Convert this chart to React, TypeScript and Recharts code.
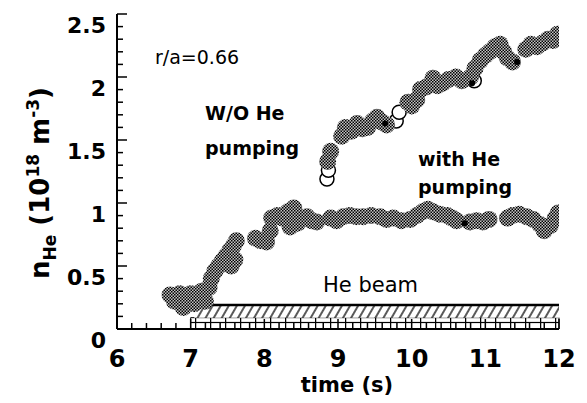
import React from 'react';
import { ScatterChart, Scatter, XAxis, YAxis, ReferenceArea, ReferenceLine } from 'recharts';

// ---- data ----
const xMajor = [6, 7, 8, 9, 10, 11, 12];
const xMinor = [6.2, 6.4, 6.6, 6.8, 7.2, 7.4, 7.6, 7.8, 8.2, 8.4, 8.6, 8.8, 9.2, 9.4, 9.6, 9.8, 10.2, 10.4, 10.6, 10.8, 11.2, 11.4, 11.6, 11.8];
const yMajor = [0, 0.5, 1, 1.5, 2, 2.5];
const yMinor = [0.1, 0.2, 0.3, 0.4, 0.6, 0.7, 0.8, 0.9, 1.1, 1.2, 1.3, 1.4, 1.6, 1.7, 1.8, 1.9, 2.1, 2.2, 2.3, 2.4];

// rise phase (common to both discharges)
const risePhase: [number, number][] = [
  [6.72, 0.27], [6.78, 0.22], [6.85, 0.28], [6.9, 0.17], [6.95, 0.23], [7.0, 0.28], [7.05, 0.2],
  [7.1, 0.26], [7.15, 0.3], [7.2, 0.22], [7.25, 0.33], [7.28, 0.4], [7.33, 0.46], [7.38, 0.5],
  [7.43, 0.54], [7.48, 0.58], [7.53, 0.62], [7.58, 0.66], [7.62, 0.7], [7.6, 0.55], [7.55, 0.5],
];
// without He pumping
const woPumping: [number, number][] = [
  [8.86, 1.33], [8.9, 1.41], [9.05, 1.53], [9.1, 1.6], [9.18, 1.57], [9.26, 1.63], [9.33, 1.59],
  [9.4, 1.6], [9.47, 1.65], [9.53, 1.68], [9.6, 1.64], [9.66, 1.62],
  [9.95, 1.8], [10.0, 1.77], [10.07, 1.82], [10.12, 1.9], [10.2, 1.92], [10.29, 1.99], [10.35, 1.93],
  [10.42, 1.95], [10.5, 1.98], [10.6, 2.0], [10.68, 1.97],
  [10.8, 2.0], [10.86, 2.07], [10.93, 2.13], [11.0, 2.17], [11.06, 2.2], [11.13, 2.24], [11.2, 2.26],
  [11.25, 2.2], [11.3, 2.15], [11.37, 2.12],
  [11.55, 2.22], [11.62, 2.26], [11.7, 2.24], [11.78, 2.27], [11.85, 2.3], [11.92, 2.29], [11.98, 2.34],
];
const woOpen: [number, number][] = [
  [8.85, 1.19], [8.87, 1.26], [9.79, 1.65], [9.83, 1.72], [10.85, 1.97],
];
// with He pumping
const withPumping: [number, number][] = [
  [7.88, 0.72], [7.95, 0.7], [8.03, 0.69], [8.08, 0.78], [8.1, 0.88], [8.18, 0.9], [8.25, 0.88],
  [8.32, 0.93], [8.4, 0.96], [8.35, 0.81], [8.45, 0.84], [8.5, 0.88], [8.58, 0.89], [8.64, 0.86],
  [8.71, 0.85], [8.9, 0.88], [8.98, 0.86], [9.07, 0.89], [9.16, 0.9], [9.25, 0.89], [9.34, 0.89],
  [9.45, 0.9], [9.57, 0.89], [9.66, 0.87], [9.75, 0.88], [9.86, 0.86], [9.98, 0.87], [10.07, 0.9],
  [10.15, 0.93], [10.22, 0.95], [10.29, 0.93], [10.38, 0.91], [10.48, 0.9], [10.55, 0.88], [10.61, 0.86],
  [10.79, 0.85], [10.88, 0.86], [10.97, 0.85], [11.05, 0.87], [11.3, 0.88], [11.37, 0.9], [11.46, 0.91],
  [11.56, 0.89], [11.65, 0.87], [11.74, 0.83], [11.8, 0.78], [11.88, 0.82], [11.95, 0.88], [11.99, 0.92],
];
const smallDots: [number, number][] = [
  [9.64, 1.63], [10.82, 1.95], [11.43, 2.12], [10.72, 0.84],
];
// He beam
const beamStart = 7.0;
const beamLineStart = 7.3;
const beamEnd = 12;
const beamTop = 0.19;
const beamMid = 0.09;

const toPts = (a: [number, number][]) => a.map(([x, y]) => ({ x, y }));

const FONT = "'DejaVu Sans', 'Liberation Sans', sans-serif";

const BlobShape = (p: any) => <circle cx={p.cx} cy={p.cy} r={8.5} fill="url(#checker)" />;
const OpenShape = (p: any) => <circle cx={p.cx} cy={p.cy} r={7} fill="#fff" stroke="#000" strokeWidth={1.5} />;
const DotShape = (p: any) => <circle cx={p.cx} cy={p.cy} r={3} fill="#000" />;

const isMajor = (v: number, arr: number[]) => arr.indexOf(v) >= 0;

const BottomTick = (p: any) => {
  const { x, y, payload } = p;
  const major = isMajor(payload.value, xMajor);
  return (
    <g>
      <line x1={x} x2={x} y1={y} y2={y - (major ? 10 : 6)} stroke="#000" strokeWidth={1.5} />
      {major && (
        <text x={x} y={y + 38} textAnchor="middle" fontFamily={FONT} fontWeight="bold" fontSize={24} fill="#000">
          {payload.value}
        </text>
      )}
    </g>
  );
};
const TopTick = (p: any) => {
  const { x, y, payload } = p;
  const major = isMajor(payload.value, xMajor);
  return <line x1={x} x2={x} y1={y} y2={y + (major ? 10 : 6)} stroke="#000" strokeWidth={1.5} />;
};
const LeftTick = (p: any) => {
  const { x, y, payload } = p;
  const major = isMajor(payload.value, yMajor);
  return (
    <g>
      <line x1={x} x2={x + (major ? 10 : 6)} y1={y} y2={y} stroke="#000" strokeWidth={1.5} />
      {major && (
        <text x={x - 11} y={y + 19} textAnchor="end" fontFamily={FONT} fontWeight="bold" fontSize={22} fill="#000">
          {payload.value}
        </text>
      )}
    </g>
  );
};
const RightTick = (p: any) => {
  const { x, y, payload } = p;
  const major = isMajor(payload.value, yMajor);
  return <line x1={x} x2={x - (major ? 10 : 6)} y1={y} y2={y} stroke="#000" strokeWidth={1.5} />;
};

const axisLine = { stroke: '#000', strokeWidth: 2 };
const xTicks = [...xMajor, ...xMinor];
const yTicks = [...yMajor, ...yMinor];

export default function App() {
  return (
    <div style={{ position: 'absolute', left: 0, top: 0, width: 587, height: 403, background: '#fff' }}>
      <svg width={0} height={0} style={{ position: 'absolute' }}>
        <defs>
          <pattern id="checker" patternUnits="userSpaceOnUse" width={3} height={3}>
            <rect width={3} height={3} fill="#c4c4c4" />
            <rect x={0} y={0} width={1.5} height={1.5} fill="#000" />
            <rect x={1.5} y={1.5} width={1.5} height={1.5} fill="#000" />
          </pattern>
          <pattern id="hatch" patternUnits="userSpaceOnUse" width={7} height={7} patternTransform="rotate(30)">
            <rect width={7} height={7} fill="#fff" />
            <line x1={1} y1={0} x2={1} y2={7} stroke="#000" strokeWidth={1.3} />
          </pattern>
          <pattern id="brick" patternUnits="userSpaceOnUse" width={15} height={10}>
            <rect width={15} height={10} fill="#fff" />
            <line x1={0.5} y1={0} x2={0.5} y2={10} stroke="#000" strokeWidth={1.5} />
            <line x1={0} y1={2.5} x2={15} y2={2.5} stroke="#000" strokeWidth={1.2} />
          </pattern>
        </defs>
      </svg>
      <ScatterChart width={587} height={403} margin={{ top: 14, right: 28, bottom: 0, left: 0 }}>
        <XAxis xAxisId="b" dataKey="x" type="number" domain={[6, 12]} allowDataOverflow ticks={xTicks}
          interval={0} tick={BottomTick} tickLine={false} tickSize={0} tickMargin={0} axisLine={axisLine} height={74} />
        <XAxis xAxisId="t" orientation="top" dataKey="x" type="number" domain={[6, 12]} allowDataOverflow ticks={xTicks}
          interval={0} tick={TopTick} tickLine={false} tickSize={0} tickMargin={0} axisLine={axisLine} height={0} />
        <YAxis yAxisId="l" dataKey="y" type="number" domain={[0, 2.5]} allowDataOverflow ticks={yTicks}
          interval={0} tick={LeftTick} tickLine={false} tickSize={0} tickMargin={0} axisLine={axisLine} width={117} />
        <YAxis yAxisId="r" orientation="right" dataKey="y" type="number" domain={[0, 2.5]} allowDataOverflow ticks={yTicks}
          interval={0} tick={RightTick} tickLine={false} tickSize={0} tickMargin={0} axisLine={axisLine} width={0} />

        <ReferenceArea xAxisId="b" yAxisId="l" x1={beamStart} x2={beamEnd} y1={0} y2={beamMid}
          fill="url(#brick)" fillOpacity={1} stroke="#000" strokeWidth={1} />
        <ReferenceArea xAxisId="b" yAxisId="l" x1={beamStart + 0.05} x2={beamEnd} y1={beamMid} y2={beamTop}
          fill="url(#hatch)" fillOpacity={1} stroke="none" />
        <ReferenceLine xAxisId="b" yAxisId="l" segment={[{ x: beamLineStart, y: beamTop }, { x: beamEnd, y: beamTop }]}
          stroke="#000" strokeWidth={2.5} />

        <Scatter xAxisId="b" yAxisId="l" data={toPts(woOpen)} shape={OpenShape} isAnimationActive={false} />
        <Scatter xAxisId="b" yAxisId="l" data={toPts(risePhase)} shape={BlobShape} isAnimationActive={false} />
        <Scatter xAxisId="b" yAxisId="l" data={toPts(withPumping)} shape={BlobShape} isAnimationActive={false} />
        <Scatter xAxisId="b" yAxisId="l" data={toPts(woPumping)} shape={BlobShape} isAnimationActive={false} />
        <Scatter xAxisId="b" yAxisId="l" data={toPts(smallDots)} shape={DotShape} isAnimationActive={false} />

        <text x={155} y={64} fontFamily={FONT} fontSize={19} fill="#000">r/a=0.66</text>
        <text x={205} y={120} fontFamily={FONT} fontSize={19} fontWeight="bold" fill="#000">W/O He</text>
        <text x={205} y={155} fontFamily={FONT} fontSize={19} fontWeight="bold" fill="#000">pumping</text>
        <text x={418} y={166} fontFamily={FONT} fontSize={19} fontWeight="bold" fill="#000">with He</text>
        <text x={418} y={194} fontFamily={FONT} fontSize={19} fontWeight="bold" fill="#000">pumping</text>
        <text x={323} y={292} fontFamily={FONT} fontSize={21} fill="#000">He beam</text>
        <text x={347} y={392} textAnchor="middle" fontFamily={FONT} fontSize={21} fontWeight="bold" fill="#000">time (s)</text>
        <text transform="translate(49,183) rotate(-90)" textAnchor="middle" fontFamily={FONT} fontSize={26} fontWeight="bold" fill="#000">
          <tspan>n</tspan>
          <tspan fontSize={17} dy={7}>He</tspan>
          <tspan dy={-7}> (10</tspan>
          <tspan fontSize={17} dy={-10}>18</tspan>
          <tspan dy={10}> m</tspan>
          <tspan fontSize={17} dy={-10}>-3</tspan>
          <tspan dy={10}>)</tspan>
        </text>
      </ScatterChart>
    </div>
  );
}
